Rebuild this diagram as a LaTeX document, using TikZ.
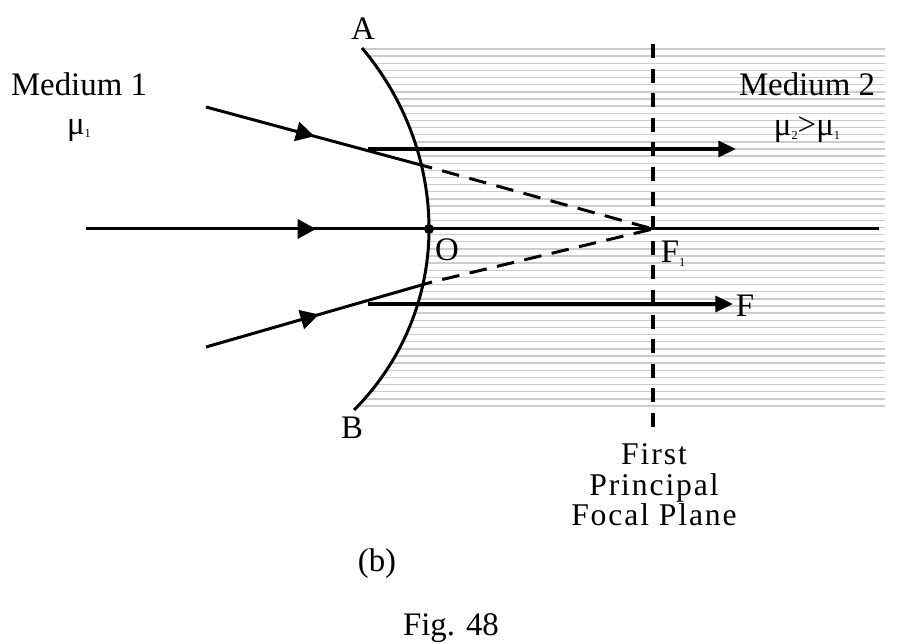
\documentclass[tikz,border=0pt]{standalone}
\usepackage{fontspec}
\setmainfont{Liberation Serif}
\usetikzlibrary{arrows.meta,decorations.markings}
\newcommand{\ray}[3]{\draw[rayline,midtip=#3] (#1) -- (#2);}
\newcommand{\beam}[2]{\draw[beamline,-{Triangle[length=10pt,width=9pt]}] (#1) -- (#2);}
\newcommand{\dashray}[2]{\draw[rayline,dash pattern=on 10pt off 6pt,dash phase=10pt] (#1) -- (#2);}
\newcommand{\sub}[1]{\raisebox{-2pt}{\fontsize{7}{7}\selectfont #1}}
\tikzset{x=0.02cm,y=-0.02cm,
  rayline/.style={line width=1.7pt},
  beamline/.style={line width=2pt},
  midtip/.style={postaction={decorate},decoration={markings,mark=at position #1 with {\arrow{Triangle[length=10.5pt,width=11pt]}}}},
  shadeline/.style={draw=black!20,line width=0.8pt},
  lbl/.style={inner sep=0pt,font=\fontsize{18.7}{21}\selectfont,align=center},
  planelbl/.style={inner sep=0pt,font=\fontsize{18}{17.4}\selectfont\addfontfeature{LetterSpace=6},align=center}}
\begin{document}
\begin{tikzpicture}
    \useasboundingbox (0,0) rectangle (897,644);
    % shading of medium 2
    \foreach \k in {0,...,50}{
      \pgfmathsetmacro{\yy}{49+7.14*\k}
      \pgfmathsetmacro{\rr}{\yy<229?2.807:2.559}
      \pgfmathsetmacro{\dy}{(\yy-229)/100}
      \pgfmathsetmacro{\xx}{429-100*\rr+100*sqrt(\rr*\rr-\dy*\dy)}
      \draw[shadeline] (\xx,\yy) -- (885,\yy);
    }
    \coordinate (A) at (362,48); \coordinate (O) at (429,229); \coordinate (B) at (354,410);
    \coordinate (Fone) at (653,229); \coordinate (axisL) at (86,229); \coordinate (axisR) at (879,229);
    \coordinate (top1) at (206,107); \coordinate (top2) at (432,168);
    \coordinate (bot1) at (206,347); \coordinate (bot2) at (432,282);
    \coordinate (par1) at (368,149); \coordinate (par2) at (736,149);
    \coordinate (par3) at (368,304); \coordinate (par4) at (733,304);
    \coordinate (planeT) at (653,44); \coordinate (planeB) at (653,436);
    % surface
    \draw[rayline] (A) .. controls (405,99) and (429,163) .. (O) .. controls (429,297) and (402,362) .. (B);
    \fill (O) circle (5);
    % rays
    \ray{axisL}{axisR}{0.29}
    \ray{top1}{top2}{0.48}
    \ray{bot1}{bot2}{0.50}
    \dashray{top2}{Fone}
    \dashray{bot2}{Fone}
    \beam{par1}{par2}
    \beam{par3}{par4}
    \draw[beamline,dash pattern=on 8pt off 6pt] (planeT) -- (planeB);
    % labels
    \node[lbl] (med1) at (79,84) {Medium 1};
    \node[lbl] (mu1) at (79,130) {μ\sub{1}};
    \node[lbl] (med2) at (807,84) {Medium 2};
    \node[lbl] (mu2) at (807,130) {μ\sub{2}>μ\sub{1}};
    \node[lbl] (labA) at (363,29) {A};
    \node[lbl] (labB) at (352,428) {B};
    \node[lbl] (labO) at (447,250) {O};
    \node[lbl] (labF1) at (673,254) {F\sub{1}};
    \node[lbl] (labF) at (745,306) {F};
    \node[planelbl] (plane) at (654,485) {First\\Principal\\Focal Plane};
    \node[lbl] (labb) at (377,564) {(b)};
    \node[lbl] (fig) at (451,628) {Fig. 48};
\end{tikzpicture}
\end{document}
